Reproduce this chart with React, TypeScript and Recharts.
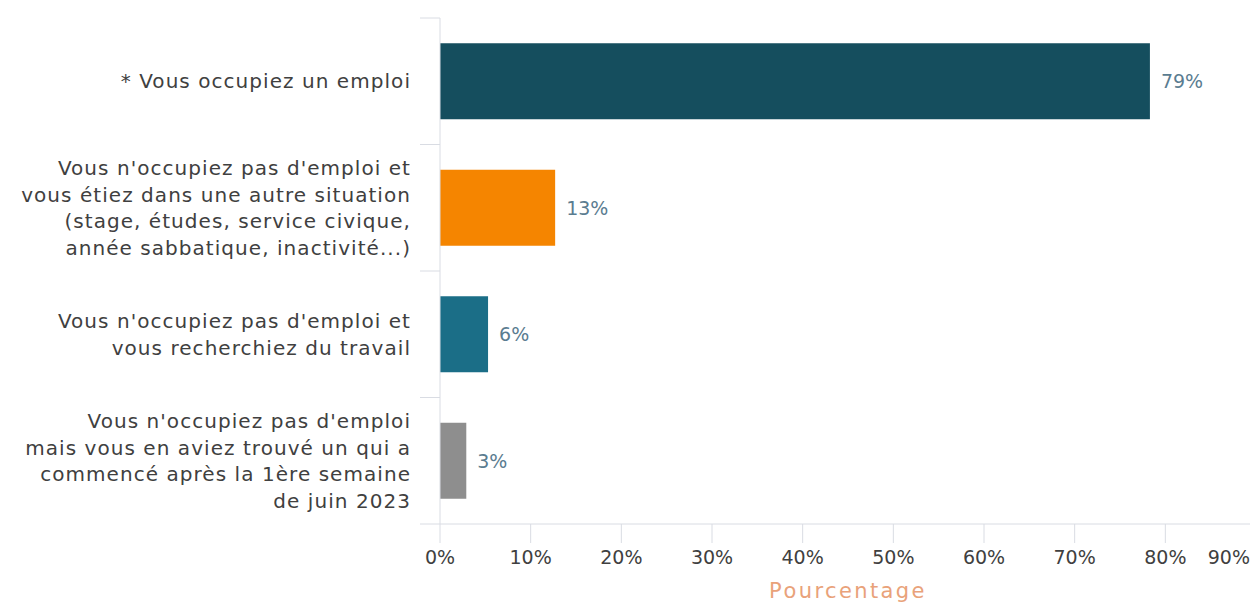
import React from "react";
import { BarChart, Bar, XAxis, YAxis, Cell, LabelList } from "recharts";

const categories = [
  "* Vous occupiez un emploi",
  "Vous n'occupiez pas d'emploi et\nvous étiez dans une autre situation\n(stage, études, service civique,\nannée sabbatique, inactivité...)",
  "Vous n'occupiez pas d'emploi et\nvous recherchiez du travail",
  "Vous n'occupiez pas d'emploi\nmais vous en aviez trouvé un qui a\ncommencé après la 1ère semaine\nde juin 2023",
];
const values = [78.3, 12.7, 5.3, 2.9];
const valueLabels = ["79%", "13%", "6%", "3%"];
const barColors = ["#154E5E", "#F58500", "#1B6E87", "#8E8E8E"];
const xTicks = [0, 10, 20, 30, 40, 50, 60, 70, 80, 90];

const data = categories.map((c, i) => ({ name: c, value: values[i], label: valueLabels[i] }));

const W = 1258;
const H = 604;
const TOP = 18;
const XAXIS_H = 80;
const AXIS_X = 440;
const PLOT_H = H - TOP - XAXIS_H;
const FONT = "'DejaVu Sans', sans-serif";
const GRID = "#D9DCE3";

const YTick = (props: any) => {
  const { y, payload, index } = props;
  const lines = String(payload.value).split("\n");
  const band = PLOT_H / categories.length;
  const lh = 26.5;
  const startY = y - ((lines.length - 1) * lh) / 2;
  return (
    <g>
      <line x1={AXIS_X - 20} x2={AXIS_X} y1={y - band / 2} y2={y - band / 2} stroke={GRID} strokeWidth={1} />
      {index === categories.length - 1 && (
        <line x1={AXIS_X - 20} x2={AXIS_X} y1={y + band / 2} y2={y + band / 2} stroke={GRID} strokeWidth={1} />
      )}
      <text
        x={AXIS_X - 29}
        y={startY}
        textAnchor="end"
        fontFamily={FONT}
        fontSize={20}
        letterSpacing={1.05}
        fill="#404040"
        dominantBaseline="central"
      >
        {lines.map((l, i) => (
          <tspan key={i} x={AXIS_X - 29} dy={i === 0 ? 0 : lh}>
            {l}
          </tspan>
        ))}
      </text>
    </g>
  );
};

const XTick = (props: any) => {
  const { x, y, payload, index } = props;
  const last = index === xTicks.length - 1;
  return (
    <text
      x={last ? x - 6 : x}
      y={y + 12}
      textAnchor={last ? "end" : "middle"}
      fontFamily={FONT}
      fontSize={19}
      fill="#404040"
      dominantBaseline="central"
    >
      {payload.value}%
    </text>
  );
};

export default function App() {
  return (
    <div style={{ marginLeft: -8, marginTop: -8, width: W, height: H, background: "#fff" }}>
      <BarChart
        width={W}
        height={H}
        data={data}
        layout="vertical"
        margin={{ top: TOP, right: 2, bottom: 0, left: 0 }}
        barCategoryGap="20%"
      >
        <XAxis
          type="number"
          domain={[0, 90]}
          ticks={xTicks}
          interval={0}
          height={XAXIS_H}
          tickSize={19}
          tickMargin={2}
          axisLine={{ stroke: GRID }}
          tickLine={{ stroke: GRID }}
          tick={<XTick />}
          label={{
            value: "Pourcentage",
            position: "insideBottom",
            offset: 6,
            fill: "#E9A27A",
            fontSize: 21,
            letterSpacing: 2.4,
            fontFamily: FONT,
          }}
        />
        <YAxis
          type="category"
          dataKey="name"
          width={AXIS_X}
          axisLine={{ stroke: GRID }}
          tickLine={false}
          interval={0}
          tick={<YTick />}
        />
        <Bar dataKey="value" isAnimationActive={false}>
          {data.map((d, i) => (
            <Cell key={i} fill={barColors[i]} />
          ))}
          <LabelList dataKey="label" position="right" offset={11} fill="#5A7C90" fontSize={19} fontFamily={FONT} />
        </Bar>
      </BarChart>
    </div>
  );
}
